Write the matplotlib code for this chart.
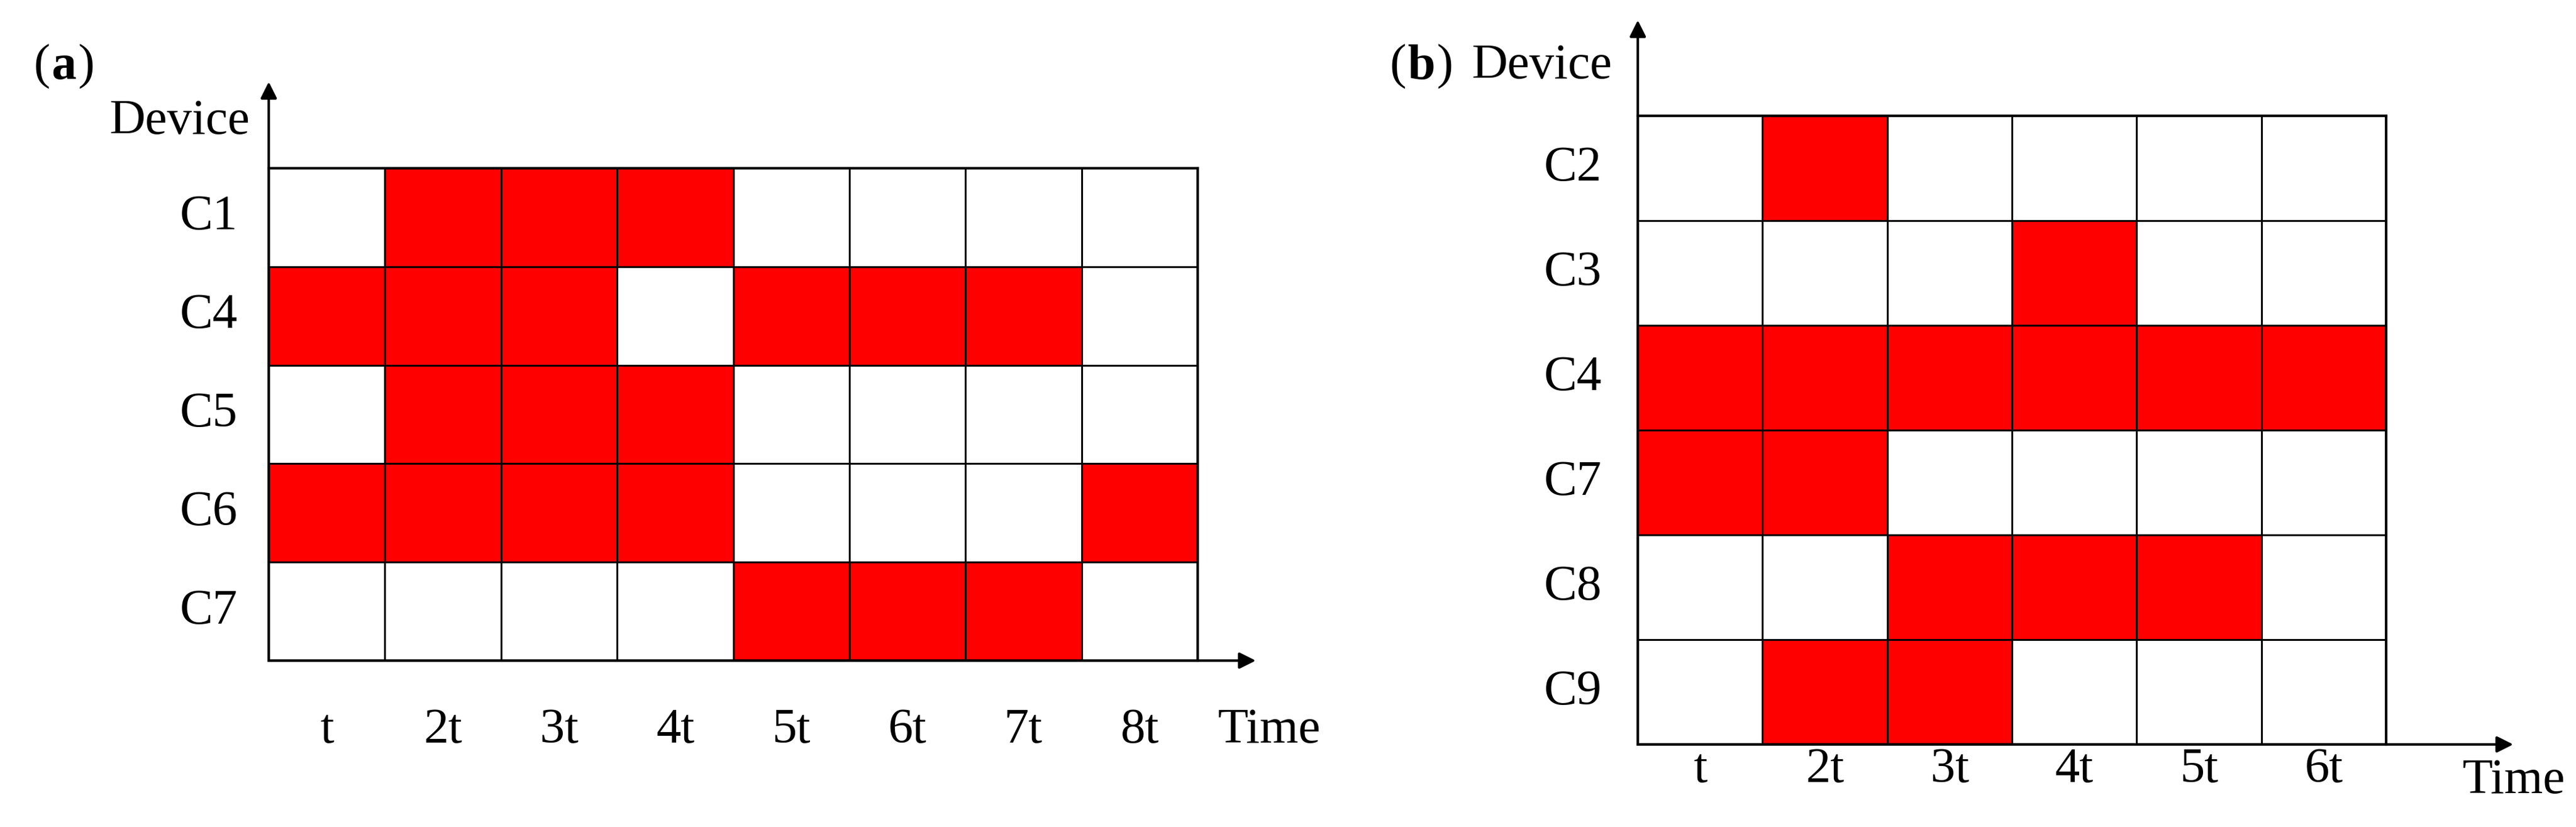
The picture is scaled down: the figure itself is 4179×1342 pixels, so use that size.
import matplotlib
matplotlib.use("Agg")
import matplotlib.pyplot as plt
import matplotlib.transforms as mtrans
import numpy as np
from matplotlib.colors import ListedColormap

plt.rcParams['font.family'] = ['Liberation Serif', 'DejaVu Serif']

devices_a = ["C1", "C4", "C5", "C6", "C7"]
times_a = ["t", "2t", "3t", "4t", "5t", "6t", "7t", "8t"]
active_a = [
    [0, 1, 1, 1, 0, 0, 0, 0],
    [1, 1, 1, 0, 1, 1, 1, 0],
    [0, 1, 1, 1, 0, 0, 0, 0],
    [1, 1, 1, 1, 0, 0, 0, 1],
    [0, 0, 0, 0, 1, 1, 1, 0],
]
devices_b = ["C2", "C3", "C4", "C7", "C8", "C9"]
times_b = ["t", "2t", "3t", "4t", "5t", "6t"]
active_b = [
    [0, 1, 0, 0, 0, 0],
    [0, 0, 0, 1, 0, 0],
    [1, 1, 1, 1, 1, 1],
    [1, 1, 0, 0, 0, 0],
    [0, 0, 1, 1, 1, 0],
    [0, 1, 1, 0, 0, 0],
]

W, H = 4179, 1342
fig = plt.figure(figsize=(W / 100, H / 100), dpi=100)
cmap = ListedColormap(["white", "#ff0000"])
FS = 58

def panel(box, data, devices, times, label, arrow_top, arrow_right, dev_xy, lab_xy, time_xy, tick_y, rowlab_x):
    x0, y0, x1, y1 = box
    ax = fig.add_axes([x0 / W, 1 - y1 / H, (x1 - x0) / W, (y1 - y0) / H])
    arr = np.array(data)
    nr, nc = arr.shape
    ax.pcolormesh(np.arange(nc + 1), np.arange(nr + 1), arr, cmap=cmap, vmin=0, vmax=1,
                  edgecolors="black", linewidth=2)
    ax.set_xlim(0, nc)
    ax.set_ylim(nr, 0)
    ax.set_xticks([]); ax.set_yticks([])
    for s in ax.spines.values():
        s.set_linewidth(3)
    ax.annotate("", xy=(x0 / W, 1 - arrow_top / H), xytext=(x0 / W, 1 - y1 / H),
                xycoords="figure fraction",
                arrowprops=dict(arrowstyle="-|>", lw=3, color="black", mutation_scale=40))
    ax.annotate("", xy=(arrow_right / W, 1 - y1 / H), xytext=(x0 / W, 1 - y1 / H),
                xycoords="figure fraction",
                arrowprops=dict(arrowstyle="-|>", lw=3, color="black", mutation_scale=40))
    for i, d in enumerate(devices):
        ax.text(rowlab_x / W, i + 0.5, d,
                transform=mtrans.blended_transform_factory(fig.transFigure, ax.transData),
                ha="center", va="center", fontsize=FS)
    for j, t in enumerate(times):
        ax.text(j + 0.5, 1 - tick_y / H, t,
                transform=mtrans.blended_transform_factory(ax.transData, fig.transFigure),
                ha="center", va="center", fontsize=FS)
    fig.text(dev_xy[0] / W, 1 - dev_xy[1] / H, "Device", ha="center", va="center", fontsize=FS)
    fig.text(time_xy[0] / W, 1 - time_xy[1] / H, "Time", ha="left", va="center", fontsize=FS)
    # "(label)" with bold letter
    t1 = fig.text(lab_xy[0] / W, 1 - lab_xy[1] / H, "(", ha="left", va="baseline", fontsize=FS)
    t2 = fig.text(0, 0, label, ha="left", va="baseline", fontsize=FS, fontweight="bold",
                  transform=mtrans.offset_copy(t1.get_transform(), fig=fig, x=0, y=0, units="dots"))
    return t1, t2, label

p1 = panel((436, 273, 1943, 1072), active_a, devices_a, times_a, "a",
           130, 2040, (292, 197), (55, 128), (1976, 1185), 1185, 339)
p2 = panel((2657, 188, 3871, 1208), active_b, devices_b, times_b, "b",
           30, 4080, (2502, 108), (2255, 128), (3995, 1267), 1250, 2552)

fig.canvas.draw()
r = fig.canvas.get_renderer()
for t1, t2, lab in (p1, p2):
    e1 = t1.get_window_extent(r)
    t2.set_transform(mtrans.IdentityTransform())
    t2.set_position((e1.x1 + 2, e1.y0 + (t1.get_transform().transform(t1.get_position())[1] - e1.y0)))
    e2 = t2.get_window_extent(r)
    t3 = fig.text(0, 0, ")", ha="left", va="baseline", fontsize=FS, transform=mtrans.IdentityTransform())
    t3.set_position((e2.x1 + 2, t2.get_position()[1]))

fig.savefig("out.png", dpi=100)
